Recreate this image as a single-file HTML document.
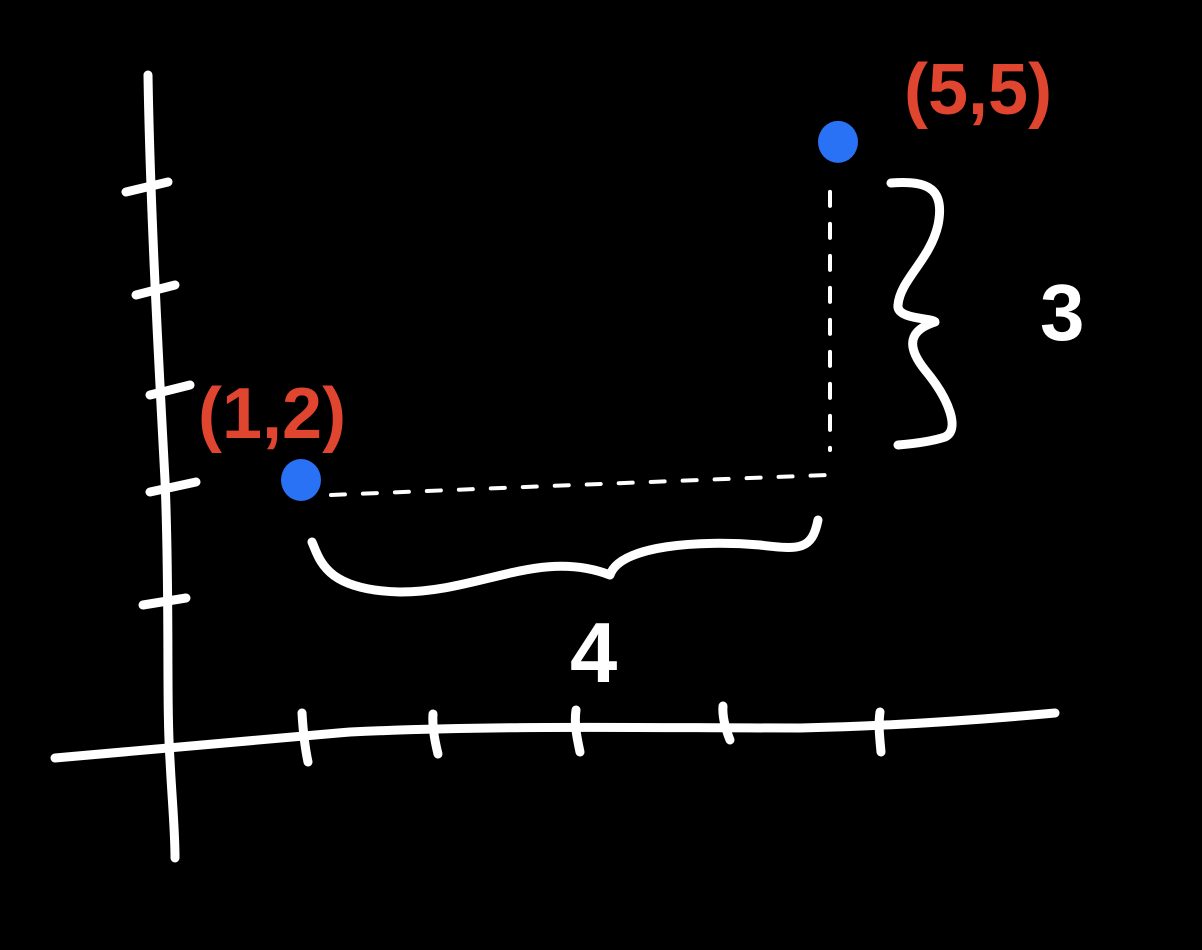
<!DOCTYPE html>
<html><head><meta charset="utf-8">
<style>
html,body{margin:0;padding:0;background:#000;}
svg{display:block;}
text{font-family:"Liberation Sans",sans-serif;}
</style></head>
<body>
<svg id="chart" width="1202" height="950" viewBox="0 0 1202 950" xmlns="http://www.w3.org/2000/svg">
<rect width="1202" height="950" fill="#000"/>
<g fill="none" stroke="#fff" stroke-width="9" stroke-linecap="round" stroke-linejoin="round">
  <path d="M148,75 C150,200 158,350 165,480 C170,600 166,700 170,760 C172,800 175,830 175,858"/>
  <path d="M55,758 C150,750 250,740 350,732 C500,725 650,728 800,728 C900,726 1000,718 1055,713"/>
  <g>
    <path d="M126,192 L168,182"/>
    <path d="M136,295 L175,285"/>
    <path d="M150,395 L190,385"/>
    <path d="M150,492 L196,482"/>
    <path d="M143,605 L186,598"/>
  </g>
  <g>
    <path d="M302,713 C303,730 305,748 308,762"/>
    <path d="M433,714 C432,728 435,742 438,754"/>
    <path d="M576,710 C574,724 577,738 580,752"/>
    <path d="M723,706 C722,718 726,730 730,740"/>
    <path d="M880,712 C878,726 880,740 881,752"/>
  </g>
</g>
<g id="guides" fill="none" stroke="#fff" stroke-width="4" stroke-dasharray="14,18" stroke-linecap="round"></g>
<g id="braces" fill="none" stroke="#fff" stroke-width="9" stroke-linecap="round" stroke-linejoin="round">
  <path d="M891,183 C930,180 945,190 938,225 C930,260 900,280 898,305 C896,320 935,318 935,322 C910,330 905,345 925,370 C950,400 960,430 945,437 C930,442 910,444 898,445"/>
  <path d="M312,542 C320,560 325,590 400,592 C480,592 540,548 610,575 C620,545 700,540 760,545 C800,550 812,550 818,520"/>
</g>
<text x="1040" y="340" fill="#fff" font-size="80" font-weight="bold">3</text>
<text x="570" y="682" fill="#fff" font-size="85" font-weight="bold">4</text>
<g id="points"></g>
<script>
const pointLabels = ["(1,2)", "(5,5)"];
const xValues = [1, 5];
const yValues = [2, 5];
function xPos(v){ return 301 + (v - 1) * 134.25; }
function yPos(v){ return 480 - (v - 2) * 112.7; }
const ns = "http://www.w3.org/2000/svg";
const pg = document.getElementById("points");
const gg = document.getElementById("guides");
const x1 = xPos(xValues[0]), y1 = yPos(yValues[0]);
const x2 = xPos(xValues[1]), y2 = yPos(yValues[1]);
const h = document.createElementNS(ns, "path");
h.setAttribute("d", `M${x1+30},${y1+15} Q${(x1+x2)/2},${y1+5} ${x2-10},${y1-5}`);


gg.appendChild(h);
const v = document.createElementNS(ns, "path");
v.setAttribute("d", `M${x2-8},${y2+50} L${x2-8},${y1-30}`);


gg.appendChild(v);
for (let i = 0; i < xValues.length; i++) {
  const cx = xPos(xValues[i]), cy = yPos(yValues[i]);
  const c = document.createElementNS(ns, "ellipse");
  c.setAttribute("cx", cx); c.setAttribute("cy", cy);
  c.setAttribute("rx", 20); c.setAttribute("ry", 21);
  c.setAttribute("fill", "#2a72f5");
  
  
  pg.appendChild(c);
  const t = document.createElementNS(ns, "text");
  t.textContent = pointLabels[i];
  t.setAttribute("fill", "#e0452f");
  t.setAttribute("font-size", "72");
  t.setAttribute("font-weight", "bold");
  if (i === 0) { t.setAttribute("x", cx - 103); t.setAttribute("y", cy - 42); }
  else { t.setAttribute("x", cx + 66); t.setAttribute("y", cy - 28); }
  
  
  pg.appendChild(t);
}
</script>
</svg>
</body></html>
